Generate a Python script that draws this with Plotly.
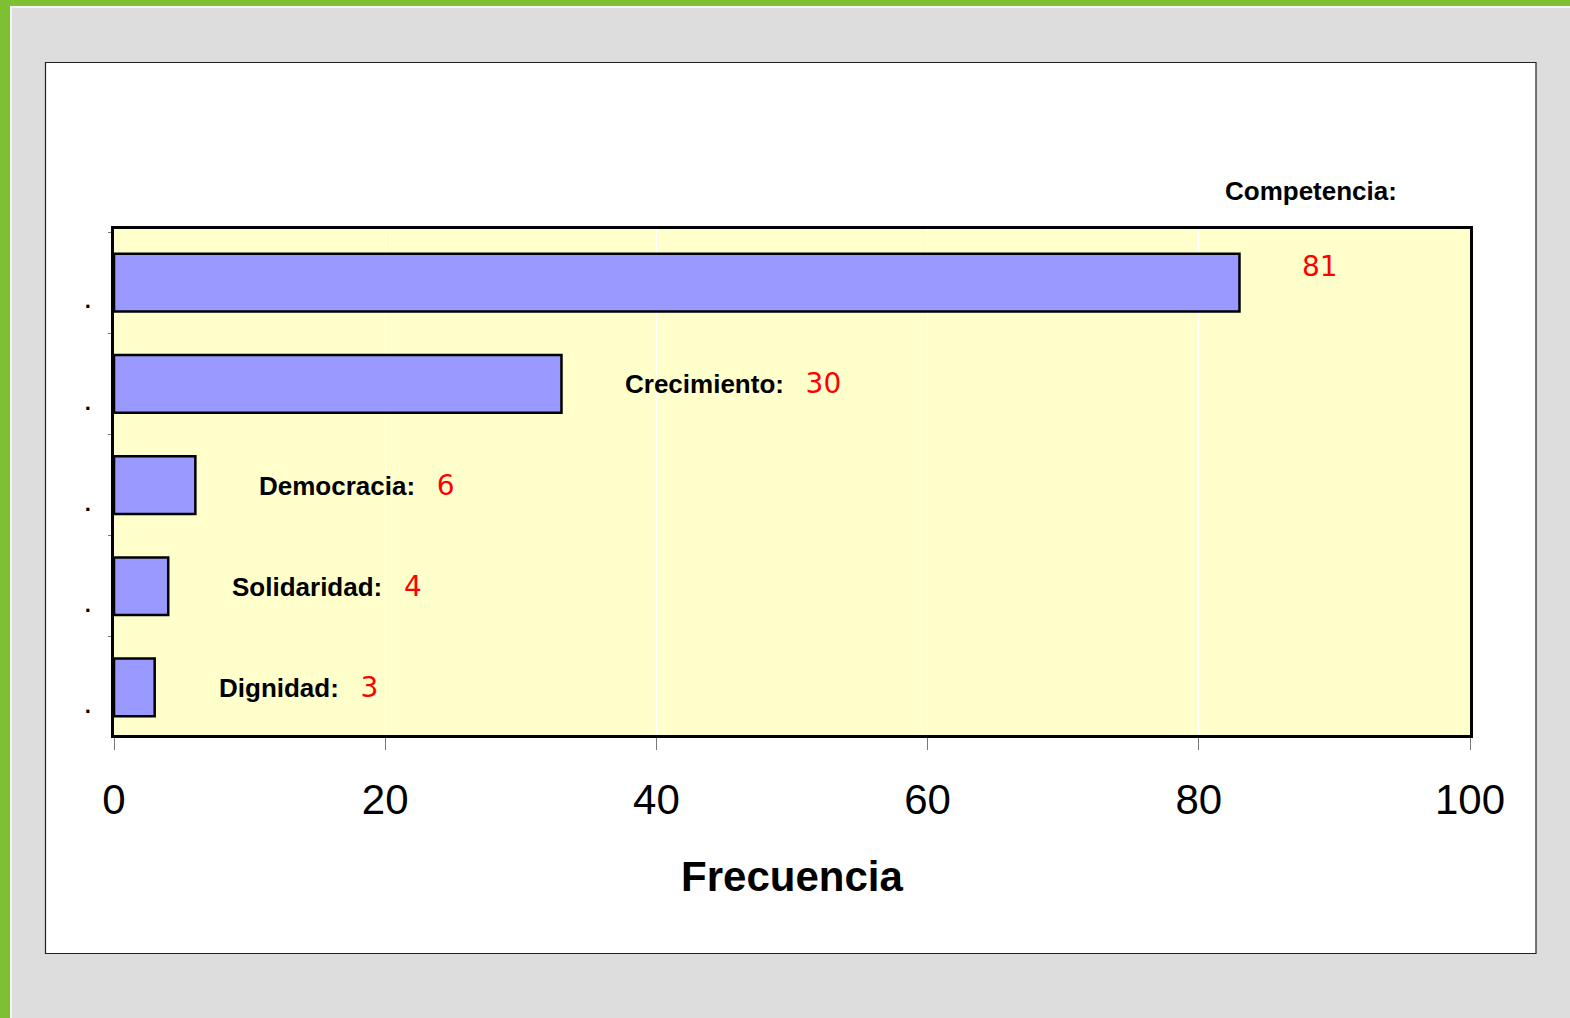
import plotly.graph_objects as go

# Data
categories = ["Competencia", "Crecimiento", "Democracia", "Solidaridad", "Dignidad"]
bar_values = [83, 33, 6, 4, 3]          # bar lengths as drawn
label_values = ["81", "30", "6", "4", "3"]  # numbers printed beside the bars
x_ticks = [0, 20, 40, 60, 80, 100]

W, H = 1570, 1018
L, R, T, B = 114, 1470, 229, 735  # plot area in pixels


def px(x):
    return (x - L) / (R - L)


def py(y):
    return (B - y) / (B - T)


fig = go.Figure()
fig.add_trace(go.Bar(
    y=categories, x=bar_values, orientation="h",
    width=0.57,
    marker=dict(color="#9999FF", line=dict(color="black", width=2.5)),
    hoverinfo="skip",
))

shapes = [
    # green frame
    dict(type="rect", xref="paper", yref="paper", x0=px(0), x1=px(W), y0=py(0), y1=py(6),
         fillcolor="#7DC031", line_width=0, layer="below"),
    dict(type="rect", xref="paper", yref="paper", x0=px(0), x1=px(10), y0=py(0), y1=py(H),
         fillcolor="#7DC031", line_width=0, layer="below"),
    # thin white inner line
    dict(type="rect", xref="paper", yref="paper", x0=px(10), x1=px(W), y0=py(6), y1=py(8),
         fillcolor="#F4F4F4", line_width=0, layer="below"),
    dict(type="rect", xref="paper", yref="paper", x0=px(10), x1=px(12), y0=py(6), y1=py(H),
         fillcolor="#F4F4F4", line_width=0, layer="below"),
    # white chart panel
    dict(type="rect", xref="paper", yref="paper", x0=px(45.5), x1=px(1536), y0=py(62.5), y1=py(953.5),
         fillcolor="white", line=dict(color="#222222", width=1.2), layer="below"),
    # plot area fill
    dict(type="rect", xref="paper", yref="paper", x0=0, x1=1, y0=0, y1=1,
         fillcolor="#FFFFCC", line_width=0, layer="below"),
]

annotations = []
gap = 62
for i, (c, v, lab) in enumerate(zip(categories, bar_values, label_values)):
    if i == 0:
        annotations.append(dict(x=v, y=c, xref="x", yref="y", xanchor="center", yanchor="middle",
                                xshift=72, yshift=92, showarrow=False,
                                text=f"<b>{c}:</b>",
                                font=dict(family="Liberation Sans, Arial", size=26, color="black")))
        annotations.append(dict(x=v, y=c, xref="x", yref="y", xanchor="center", yanchor="middle",
                                xshift=81, yshift=16, showarrow=False,
                                text=lab,
                                font=dict(family="DejaVu Sans", size=28, color="red")))
    else:
        annotations.append(dict(x=v, y=c, xref="x", yref="y", xanchor="left", yanchor="middle",
                                xshift=gap, yshift=0, showarrow=False,
                                text=f"<b>{c}:</b>&nbsp;&nbsp;&nbsp;<span style='color:red;font-family:DejaVu Sans;font-weight:normal;font-size:28px'>{lab}</span>",
                                font=dict(family="Liberation Sans, Arial", size=26, color="black")))

fig.update_layout(
    width=W, height=H,
    margin=dict(l=L, r=W - R, t=T, b=H - B, pad=0),
    paper_bgcolor="#DDDDDD",
    plot_bgcolor="#FFFFCC",
    showlegend=False,
    bargap=0.43,
    shapes=shapes,
    annotations=annotations,
    xaxis=dict(
        range=[0, 100], tickvals=x_ticks, ticktext=[str(t) for t in x_ticks],
        showgrid=True, gridcolor="white", gridwidth=1,
        zeroline=False,
        showline=True, linecolor="black", linewidth=2.5, mirror=True,
        ticks="outside", ticklen=12, tickcolor="#777777", tickwidth=1,
        tickfont=dict(family="Liberation Sans, Arial", size=42, color="black"),
        ticklabelstandoff=14,
        title=dict(text="<b>Frecuencia</b>", standoff=40,
                   font=dict(family="Liberation Sans, Arial", size=42, color="black")),
    ),
    yaxis=dict(
        categoryorder="array", categoryarray=categories,
        range=[4.47, -0.53],
        showgrid=False, zeroline=False,
        showline=True, linecolor="black", linewidth=2.5, mirror=True,
        ticks="outside", ticklen=3, tickcolor="#777777", tickson="boundaries",
        tickvals=categories, ticktext=["<b>.</b>"] * len(categories),
        tickfont=dict(family="Liberation Sans, Arial", size=22, color="black"),
        ticklabelstandoff=16,
        ticklabelshift=-18,
    ),
)

fig.write_html("out.html", config={"displayModeBar": False},
               post_script="document.body.style.margin='0';document.body.style.overflow='hidden';")
